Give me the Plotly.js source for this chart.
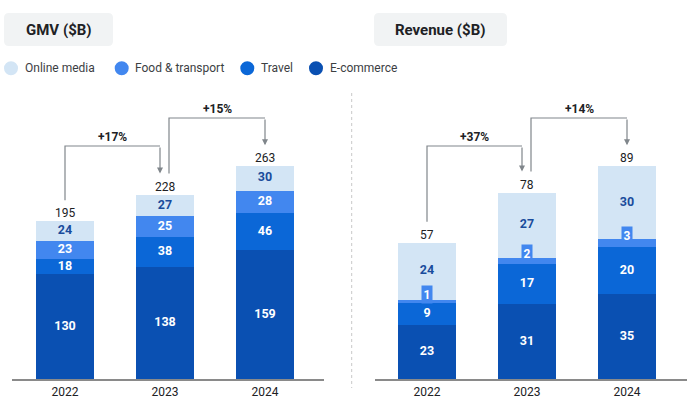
<!DOCTYPE html>
<html>
<head>
<meta charset="utf-8">
<script src="https://cdn.plot.ly/plotly-3.0.1.min.js"></script>
<style>html,body{margin:0;padding:0;background:#fff;}#chart{width:697px;height:401px;}</style>
</head>
<body>
<div id="chart"></div>
<script>
// ---------- data ----------
const years = ['2022', '2023', '2024'];
const seriesNames = ['E-commerce', 'Travel', 'Food & transport', 'Online media'];

const gmvEcommerce = [130, 138, 159];
const gmvTravel = [18, 38, 46];
const gmvFood = [23, 25, 28];
const gmvMedia = [24, 27, 30];
const gmvTotal = [195, 228, 263];
const gmvGrowth = ['+17%', '+15%'];

const revEcommerce = [22.8, 31.4, 35.4];
const revTravel = [9.2, 16.8, 20.0];
const revFood = [1.1, 2.4, 3.2];
const revMedia = [23.9, 27.4, 30.4];
const revTotal = [57, 78, 89];
const revGrowth = ['+37%', '+14%'];

// ---------- styling ----------
const W = 697, H = 401;
const X = p => p / W;
const Y = p => 1 - p / H;
const FONT = 'Roboto, "Noto Sans", Arial, sans-serif';
const colors = {
  'E-commerce': '#0a50b2',
  'Travel': '#0b67d7',
  'Food & transport': '#4287ef',
  'Online media': '#d3e5f5'
};
const labelColors = {
  'E-commerce': '#ffffff',
  'Travel': '#ffffff',
  'Food & transport': '#ffffff',
  'Online media': '#1a4c9c'
};
const baseline = 379, topPx = 90;
const gmvScale = 0.809, revScale = 2.39;  // px per $B

const traces = [];
const annotations = [];
const shapes = [];

function panel(xa, ya, seriesVals, totals, growth, scale, boxedFood) {
  const xref = xa === 'x' ? 'x' : 'x2';
  const yref = ya === 'y' ? 'y' : 'y2';
  const cum = [0, 0, 0];
  seriesNames.forEach((name, si) => {
    const vals = seriesVals[si];
    traces.push({
      type: 'bar', x: years, y: vals, name: name, xaxis: xref, yaxis: yref,
      width: 0.58, marker: {color: colors[name], line: {width: 0}},
      showlegend: false, hoverinfo: 'skip'
    });
    const mids = vals.map((v, i) => cum[i] + v / 2);
    const labels = vals.map(v => String(Math.round(v)));
    if (boxedFood && name === 'Food & transport') {
      vals.forEach((v, i) => {
        annotations.push({
          xref: xref, yref: yref, x: i, y: mids[i], text: labels[i],
          showarrow: false, yanchor: 'middle', yshift: 7, bgcolor: colors[name],
          borderpad: 1.5, font: {family: FONT, size: 12, color: '#fff', weight: 'bold'}
        });
      });
    } else {
      traces.push({
        type: 'scatter', mode: 'text', x: years, y: mids, text: labels,
        xaxis: xref, yaxis: yref, showlegend: false, hoverinfo: 'skip',
        textfont: {family: FONT, size: 12.5, color: labelColors[name], weight: 'bold'}
      });
    }
    vals.forEach((v, i) => cum[i] += v);
  });
  // totals
  totals.forEach((t, i) => {
    annotations.push({
      xref: xref, yref: yref, x: i, y: t, text: String(t), showarrow: false,
      yanchor: 'bottom', borderpad: 0, font: {family: FONT, size: 12, color: '#202124'}
    });
  });
  // growth brackets
  const startX = [0, 1.04], tipX = [0.95, 2];
  const levelsPx = [146, 118];
  const gapPx = 21;
  growth.forEach((g, k) => {
    const y0 = totals[k] + gapPx / scale;
    const yTip = totals[k + 1] + gapPx / scale;
    const lvl = (baseline - levelsPx[k]) / scale;
    shapes.push({
      type: 'path', xref: xref, yref: yref,
      path: `M${startX[k]},${y0} L${startX[k]},${lvl} L${tipX[k]},${lvl}`,
      line: {color: '#80868b', width: 1.2}
    });
    annotations.push({
      xref: xref, yref: yref, x: tipX[k], y: yTip, ax: tipX[k], ay: lvl,
      axref: xref, ayref: yref, text: '', showarrow: true, arrowhead: 2,
      arrowsize: 1, arrowwidth: 1.2, arrowcolor: '#80868b', standoff: 0
    });
    annotations.push({
      xref: xref, yref: yref, x: (startX[k] + tipX[k]) / 2, y: lvl, text: g,
      showarrow: false, yanchor: 'bottom', yshift: 1, borderpad: 0,
      font: {family: FONT, size: 12, color: '#202124', weight: 'bold'}
    });
  });
}

panel('x', 'y', [gmvEcommerce, gmvTravel, gmvFood, gmvMedia], gmvTotal, gmvGrowth, gmvScale, false);
panel('x2', 'y2', [revEcommerce, revTravel, revFood, revMedia], revTotal, revGrowth, revScale, true);

// title boxes
function roundBox(x0, y0, x1, y1, r) {
  const rx = r / W, ry = r / H;
  const a = X(x0), b = X(x1), c = Y(y0), d = Y(y1);
  return `M${a + rx},${c} L${b - rx},${c} Q${b},${c} ${b},${c - ry} L${b},${d + ry} Q${b},${d} ${b - rx},${d} L${a + rx},${d} Q${a},${d} ${a},${d + ry} L${a},${c - ry} Q${a},${c} ${a + rx},${c} Z`;
}
[[4, 13, 113, 46, 'GMV ($B)'], [374, 13, 507, 46, 'Revenue ($B)']].forEach(b => {
  shapes.push({type: 'path', xref: 'paper', yref: 'paper', path: roundBox(b[0], b[1], b[2], b[3], 5),
    fillcolor: '#f1f3f4', line: {width: 0}, layer: 'below'});
  annotations.push({xref: 'paper', yref: 'paper', x: X((b[0] + b[2]) / 2), y: Y((b[1] + b[3]) / 2),
    text: b[4], showarrow: false, xanchor: 'center', yanchor: 'middle',
    font: {family: FONT, size: 15, color: '#202124', weight: 'bold'}});
});

// legend
const legendOrder = ['Online media', 'Food & transport', 'Travel', 'E-commerce'];
const legendCirclePx = [11, 121.7, 247.3, 316];
const legendTextPx = [24, 134.3, 260, 329.3];
const legendY = 68.3;
legendOrder.forEach((name, i) => {
  const r = 7;
  shapes.push({type: 'circle', xref: 'paper', yref: 'paper',
    x0: X(legendCirclePx[i] - r), x1: X(legendCirclePx[i] + r),
    y0: Y(legendY + r), y1: Y(legendY - r),
    fillcolor: colors[name], line: {width: 0}});
  annotations.push({xref: 'paper', yref: 'paper', x: X(legendTextPx[i]), y: Y(legendY),
    text: name, showarrow: false, xanchor: 'left', yanchor: 'middle', borderpad: 0,
    font: {family: FONT, size: 12, color: '#3c4043'}});
});

// dotted separator
shapes.push({type: 'line', xref: 'paper', yref: 'paper', x0: X(351.7), x1: X(351.7), y0: Y(93), y1: Y(388),
  line: {color: '#c8c8c8', width: 1, dash: 'dot'}});

const xCommon = {
  type: 'category', showgrid: false, zeroline: false, showline: true,
  linecolor: '#8a8a8a', linewidth: 2, ticks: '', ticklabelstandoff: 1,
  tickfont: {family: FONT, size: 12, color: '#202124'}, fixedrange: true
};
const yCommon = {showgrid: false, zeroline: false, showticklabels: false, showline: false, ticks: '', fixedrange: true};

const layout = {
  width: W, height: H, margin: {l: 0, r: 0, t: 0, b: 0},
  paper_bgcolor: '#ffffff', plot_bgcolor: 'rgba(0,0,0,0)',
  barmode: 'stack', showlegend: false, hovermode: false,
  xaxis: Object.assign({}, xCommon, {domain: [X(12), X(324)], range: [-0.53, 2.59], anchor: 'y'}),
  yaxis: Object.assign({}, yCommon, {domain: [Y(baseline), Y(topPx)], range: [0, (baseline - topPx) / gmvScale], anchor: 'x'}),
  xaxis2: Object.assign({}, xCommon, {domain: [X(375), X(687)], range: [-0.52, 2.60], anchor: 'y2'}),
  yaxis2: Object.assign({}, yCommon, {domain: [Y(baseline), Y(topPx)], range: [0, (baseline - topPx) / revScale], anchor: 'x2'}),
  shapes: shapes, annotations: annotations
};

Plotly.newPlot('chart', traces, layout, {displayModeBar: false, staticPlot: true});
</script>
</body>
</html>
